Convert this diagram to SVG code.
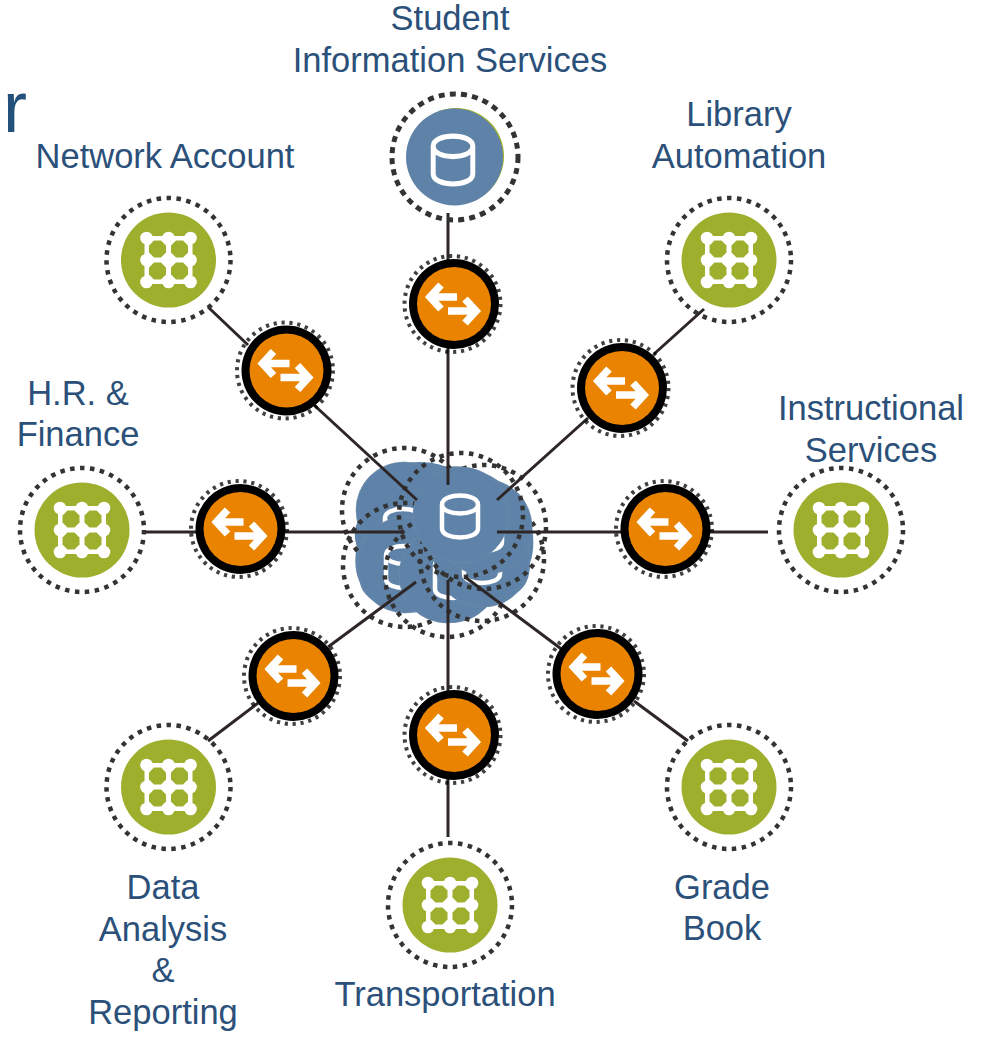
<svg xmlns="http://www.w3.org/2000/svg" width="981" height="1040" viewBox="0 0 981 1040">
<style>
.t{font-family:"Liberation Sans",Arial,sans-serif;font-size:34.5px;fill:#2b5079;text-anchor:middle}
.c{stroke:#2e2626;stroke-width:3;fill:none;stroke-linecap:butt}
.ring{fill:none;stroke:#333;stroke-width:4.5;stroke-dasharray:4.5 5.49}
.sring{fill:none;stroke:#000;stroke-opacity:.75;stroke-width:4;stroke-dasharray:3.2 4.74}
.w{fill:none;stroke:#fff;stroke-width:4.5;stroke-linecap:round;stroke-linejoin:round}
.a{fill:none;stroke:#fff;stroke-width:7.5;stroke-linejoin:miter;stroke-miterlimit:4}
.blue{fill:#5f83a8;stroke:#6d8cab;stroke-width:.6}
</style>
<defs>
<g id="app">
<circle r="62" class="ring"/>
<circle r="47.5" fill="#9daf2c"/>
<rect x="-24" y="-24" width="48" height="48" fill="#fff"/>
<g fill="#9daf2c">
<path d="M-19.5-14.5-14.5-19.5H-7.5L-2.5-14.5V-7.5L-7.5-2.5H-14.5L-19.5-7.5Z"/>
<path d="M2.5-14.5 7.5-19.5H14.5L19.5-14.5V-7.5L14.5-2.5H7.5L2.5-7.5Z"/>
<path d="M-19.5 7.5-14.5 2.5H-7.5L-2.5 7.5V14.5L-7.5 19.5H-14.5L-19.5 14.5Z"/>
<path d="M2.5 7.5 7.5 2.5H14.5L19.5 7.5V14.5L14.5 19.5H7.5L2.5 14.5Z"/>
</g>
<g fill="#fff"><circle cx="-22" cy="-22" r="6.3"/><circle cx="0" cy="-22" r="6.3"/><circle cx="22" cy="-22" r="6.3"/><circle cx="-22" cy="0" r="6.3"/><circle cx="0" cy="0" r="6.3"/><circle cx="22" cy="0" r="6.3"/><circle cx="-22" cy="22" r="6.3"/><circle cx="0" cy="22" r="6.3"/><circle cx="22" cy="22" r="6.3"/></g>
</g>
<g id="svc">
<circle cx="-1.5" cy="0" r="48" class="sring"/>
<circle r="45" fill="#000"/>
<circle r="37" fill="#e98300"/>
<path class="a" d="M-13-19-24-7-13 5M-24-7H3M11-5 22 7 11 19M-6 7H22"/>
</g>
<path id="db" class="w" d="M-18-12V12C-18 18-9 21 0 21S18 18 18 12V-12M-18-12C-18-18-9-21 0-21S18-18 18-12 9-3 0-3-18-6-18-12Z"/>
</defs>

<text x="3" y="132" style="font-family:'Liberation Sans',Arial,sans-serif;font-size:72px;fill:#24507c">r</text>

<g id="hub">
<path id="hub-cloud" fill="#5f83a8" d="M420 462C432 462 441 465 448 467 470 463 505 478 520 503 527 510 532 518 532 527 534 540 534 552 530 563 530 578 526 586 517 593 508 602 498 606 487 607 476 618 464 623 450 623 438 623 428 619 420 612 408 613 397 611 387 607 372 602 362 594 360 583 355 572 354 560 357 547 354 538 354 530 357 523 358 510 364 497 373 487 378 477 385 471 393 467 402 463 411 462 420 462Z"/>
<g id="hub-db-1"><circle cx="404" cy="510" r="62" class="ring"/><circle cx="404" cy="510" r="48" class="blue"/><use href="#db" transform="translate(403 530)"/></g>
<g id="hub-db-2"><circle cx="405" cy="565" r="62" class="ring"/><circle cx="405" cy="565" r="48" class="blue"/><use href="#db" transform="translate(404 567)"/></g>
<g id="hub-db-3"><circle cx="447" cy="575" r="62" class="ring"/><circle cx="447" cy="575" r="48" class="blue"/><use href="#db" transform="translate(453 577)"/></g>
<g id="hub-db-4"><circle cx="482" cy="559" r="62" class="ring"/><circle cx="482" cy="559" r="48" class="blue"/><use href="#db" transform="translate(482 562)"/></g>
<g id="hub-db-5"><circle cx="484" cy="527" r="62" class="ring"/><circle cx="484" cy="527" r="48" class="blue"/><use href="#db" transform="translate(484 530)"/></g>
<g id="hub-db-6"><circle cx="461" cy="515" r="48" class="blue"/><circle cx="461" cy="515" r="62" class="ring"/><use href="#db" transform="translate(460 516.5)"/></g>
</g>

<g id="connectors">
<line class="c" x1="448" y1="213" x2="448" y2="262"/>
<line class="c" x1="448" y1="346" x2="448" y2="485"/>
<line class="c" x1="208" y1="307" x2="248" y2="345"/>
<line class="c" x1="314" y1="405" x2="417" y2="500"/>
<line class="c" x1="704" y1="309" x2="654" y2="354"/>
<line class="c" x1="588" y1="418" x2="497" y2="500"/>
<line class="c" x1="145" y1="532" x2="197" y2="532"/>
<line class="c" x1="284" y1="532" x2="402" y2="532"/>
<line class="c" x1="497" y1="532" x2="622" y2="532"/>
<line class="c" x1="708" y1="532" x2="768" y2="532"/>
<line class="c" x1="208" y1="741" x2="258" y2="703"/>
<line class="c" x1="328" y1="647" x2="416" y2="582"/>
<line class="c" x1="465" y1="577" x2="564" y2="651"/>
<line class="c" x1="634" y1="701" x2="688" y2="741"/>
<line class="c" x1="448" y1="580" x2="448" y2="694"/>
<line class="c" x1="448" y1="776" x2="448" y2="837"/>
</g>

<g id="student-info"><circle cx="455" cy="157" r="63" fill="none" stroke="#333" stroke-width="5" stroke-dasharray="6 5.2"/><circle cx="456" cy="156" r="48" fill="#9daf2c"/><circle cx="454.5" cy="157" r="48.5" fill="#5f83a8"/><use href="#db" transform="translate(453 160) scale(1.1 1.14)"/>
<text class="t" x="450" y="30">Student</text><text class="t" x="450" y="72">Information Services</text></g>
<g id="network-account"><use href="#app" x="168.5" y="260"/><text class="t" x="165" y="168">Network Account</text></g>
<g id="library"><use href="#app" x="729" y="260"/><text class="t" x="739" y="126">Library</text><text class="t" x="739" y="168">Automation</text></g>
<g id="instructional"><use href="#app" x="841" y="530"/><text class="t" x="871" y="420">Instructional</text><text class="t" x="871" y="462">Services</text></g>
<g id="hr-finance"><use href="#app" x="82" y="530"/><text class="t" x="78" y="405">H.R. &amp;</text><text class="t" x="78" y="446">Finance</text></g>
<g id="data-analysis"><use href="#app" x="168.5" y="787"/><text class="t" x="163" y="899">Data</text><text class="t" x="163" y="941">Analysis</text><text class="t" x="163" y="982">&amp;</text><text class="t" x="163" y="1024">Reporting</text></g>
<g id="grade-book"><use href="#app" x="729" y="787"/><text class="t" x="722" y="899">Grade</text><text class="t" x="722" y="940">Book</text></g>
<g id="transportation"><use href="#app" x="450" y="905"/><text class="t" x="445" y="1006">Transportation</text></g>

<g id="svc-student"><use href="#svc" x="454" y="304"/></g>
<g id="svc-network"><use href="#svc" x="286.5" y="370.5"/></g>
<g id="svc-library"><use href="#svc" x="622" y="388"/></g>
<g id="svc-hr"><use href="#svc" x="240.5" y="529"/></g>
<g id="svc-instructional"><use href="#svc" x="665.5" y="529"/></g>
<g id="svc-data"><use href="#svc" x="293.5" y="676"/></g>
<g id="svc-grade"><use href="#svc" x="597.5" y="674"/></g>
<g id="svc-transport"><use href="#svc" x="454" y="735"/></g>
</svg>
